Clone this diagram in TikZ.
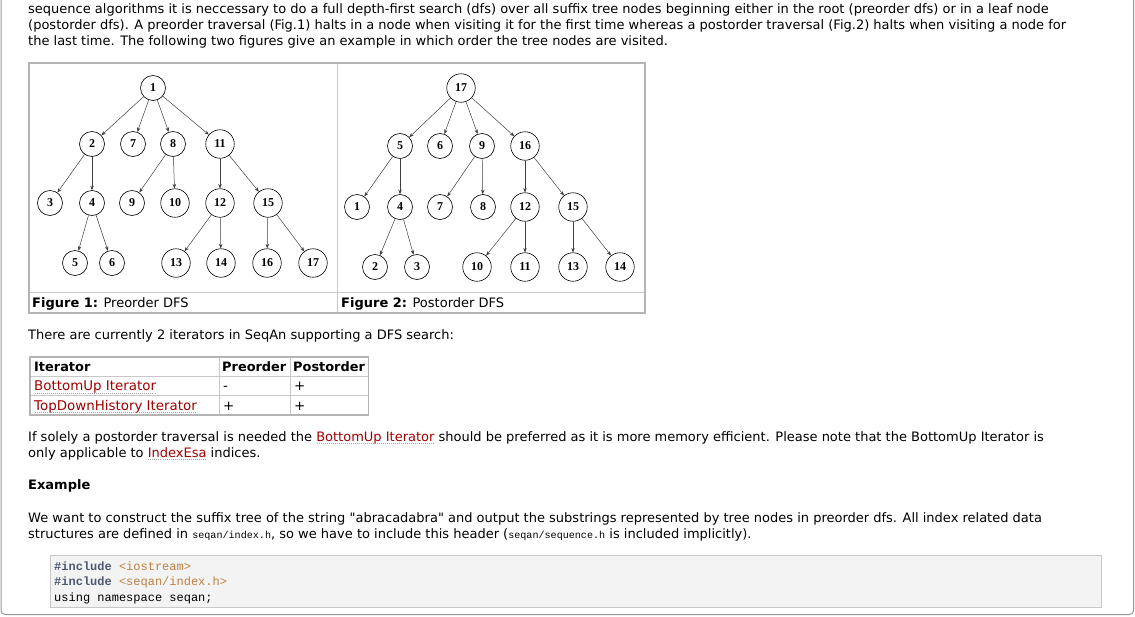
\documentclass[tikz,border=0pt]{standalone}
\usepackage{fontspec}
\setmainfont{DejaVu Sans}
\setmonofont{Liberation Mono}
\newfontfamily\treefont{Liberation Serif}
\usepackage{tikz}
\usetikzlibrary{arrows.meta}
\definecolor{linkred}{HTML}{A00000}
\definecolor{inclcol}{HTML}{4E5A72}
\definecolor{hdrcol}{HTML}{C08040}
\definecolor{rulecol}{HTML}{C8C8C8}
\definecolor{codebg}{HTML}{F3F3F3}
\tikzstyle{vtx}=[draw,circle,black,line width=0.6pt,inner sep=0pt,font=\treefont\bfseries\fontsize{12}{12}\selectfont]
\tikzstyle{small}=[minimum size=25pt]
\tikzstyle{wide}=[minimum size=28.5pt]
\tikzstyle{arc}=[draw=black!75,line width=0.5pt,-{Stealth[length=4.5pt,width=3.5pt]}]
\tikzstyle{txt}=[anchor=base west,inner sep=0pt,font=\fontsize{13}{15}\selectfont]
\tikzstyle{cell}=[anchor=base west,inner sep=0pt,font=\fontsize{13.4}{15}\selectfont]
\tikzstyle{head}=[cell,font=\bfseries\fontsize{12.9}{15}\selectfont]
\tikzstyle{code}=[anchor=base west,inner sep=0pt,font=\ttfamily\fontsize{12}{14}\selectfont]
\tikzstyle{frame}=[draw=rulecol!90!black,line width=1.5pt]
\tikzstyle{grid}=[draw=rulecol,line width=0.8pt]
% red link with dotted underline
\newcommand\lnk[1]{\sbox0{\color{linkred}#1}\leavevmode\rlap{\usebox0}%
  \raisebox{-3pt}{{\color{black!35}\makebox[\wd0][l]{\xleaders\hbox to 2pt{\hss\rule{1pt}{0.6pt}\hss}\hskip\wd0}}}}
\newcommand\tinytt[1]{{\ttfamily\fontsize{10.1}{12}\selectfont #1}}
% straight double quote, past the tex-text mapping
\newcommand\dq{\XeTeXglyph\XeTeXcharglyph"22\relax}

\begin{document}
\begin{tikzpicture}[x=1pt,y=-1pt]
\useasboundingbox (0,0) rectangle (1135,616);
\draw[black!40,line width=1pt,rounded corners=4pt] (1,-2) -- (1,614.5) -- (1133.5,614.5) -- (1133.5,-2);

% intro
\node[txt] (l1) at (28,13.5) {sequence algorithms it is neccessary to do a full depth-first search (dfs) over all suffix tree nodes beginning either in the root (preorder dfs) or in a leaf node};
\node[txt] (l2) at (28,29.5) {(postorder dfs). A preorder traversal (Fig.1) halts in a node when visiting it for the first time whereas a postorder traversal (Fig.2) halts when visiting a node for};
\node[txt] (l3) at (28,45) {the last time. The following two figures give an example in which order the tree nodes are visited.};

% figure frame
\draw[grid] (337.5,63) -- (337.5,313);
\draw[grid] (29,292) -- (645,292);
\draw[frame] (29,63) rectangle (645,313);
\node[txt] (cap1) at (32,307) {\textbf{Figure 1:} Preorder DFS};
\node[txt] (cap2) at (341,307) {\textbf{Figure 2:} Postorder DFS};

% preorder tree
\foreach \place/\name in {{(153,88)/1}, {(92,144)/2}, {(133,144)/7}, {(173,144)/8},
  {(50,203)/3}, {(92,203)/4}, {(132,203)/9}, {(75,263)/5}, {(112,263)/6}}
    \node[vtx,small] (p\name) at \place {\name};
\foreach \place/\name in {{(220,144)/11}, {(175,203)/10}, {(220,203)/12}, {(268,203)/15},
  {(176,263)/13}, {(221,263)/14}, {(267,263)/16}, {(313,263)/17}}
    \node[vtx,wide] (p\name) at \place {\name};
\foreach \source/\dest in {1/2, 1/7, 1/8, 1/11, 2/3, 2/4, 8/9, 8/10, 11/12, 11/15,
  4/5, 4/6, 12/13, 12/14, 15/16, 15/17}
    \draw[arc] (p\source) -- (p\dest);

% postorder tree
\foreach \place/\name in {{(400,146)/5}, {(440,146)/6}, {(482,146)/9},
  {(357,207)/1}, {(400,207)/4}, {(440,207)/7}, {(483,207)/8}, {(375,267)/2}, {(417,267)/3}}
    \node[vtx,small] (q\name) at \place {\name};
\foreach \place/\name in {{(461,88)/17}, {(525,146)/16}, {(525,207)/12}, {(573,207)/15},
  {(477,267)/10}, {(525,267)/11}, {(573,267)/13}, {(620,267)/14}}
    \node[vtx,wide] (q\name) at \place {\name};
\foreach \source/\dest in {17/5, 17/6, 17/9, 17/16, 5/1, 5/4, 9/7, 9/8, 16/12, 16/15,
  4/2, 4/3, 12/10, 12/11, 15/13, 15/14}
    \draw[arc] (q\source) -- (q\dest);

\node[txt] (iters) at (28,339.5) {There are currently 2 iterators in SeqAn supporting a DFS search:};

% iterator table
\draw[grid] (219,357) -- (219,415);
\draw[grid] (290,357) -- (290,415);
\draw[grid] (30,376.5) -- (368.5,376.5);
\draw[grid] (30,395.5) -- (368.5,395.5);
\draw[frame] (30,357) rectangle (368.5,415);
\node[head] (h1) at (34,371.5) {Iterator};
\node[head] (h2) at (222,371.5) {Preorder};
\node[head] (h3) at (293,371.5) {Postorder};
\node[cell] (r1) at (34,390.5) {\lnk{BottomUp Iterator}};
\node[cell] (r1a) at (223,390.5) {-};
\node[cell] (r1b) at (294,390.5) {+};
\node[cell] (r2) at (34,410) {\lnk{TopDownHistory Iterator}};
\node[cell] (r2a) at (223,410) {+};
\node[cell] (r2b) at (294,410) {+};

\node[txt] (p1) at (28,441) {If solely a postorder traversal is needed the \lnk{BottomUp Iterator} should be preferred as it is more memory efficient. Please note that the BottomUp Iterator is};
\node[txt] (p2) at (28,457) {only applicable to \lnk{IndexEsa} indices.};
\node[txt] (ex) at (28,489) {\textbf{Example}};
\node[txt] (w1) at (28,522) {We want to construct the suffix tree of the string \dq abracadabra\dq{} and output the substrings represented by tree nodes in preorder dfs. All index related data};
\node[txt] (w2) at (28,538) {structures are defined in \tinytt{seqan/index.h}, so we have to include this header (\tinytt{seqan/sequence.h} is included implicitly).};

% code box
\draw[draw=rulecol,fill=codebg,line width=0.8pt] (50,555) rectangle (1101.5,607);
\node[code] (c1) at (54,570) {\textcolor{inclcol}{\bfseries\#include} \textcolor{hdrcol}{<iostream>}};
\node[code] (c2) at (54,585.5) {\textcolor{inclcol}{\bfseries\#include} \textcolor{hdrcol}{<seqan/index.h>}};
\node[code] (c3) at (54,601) {using namespace seqan;};
\end{tikzpicture}
\end{document}
